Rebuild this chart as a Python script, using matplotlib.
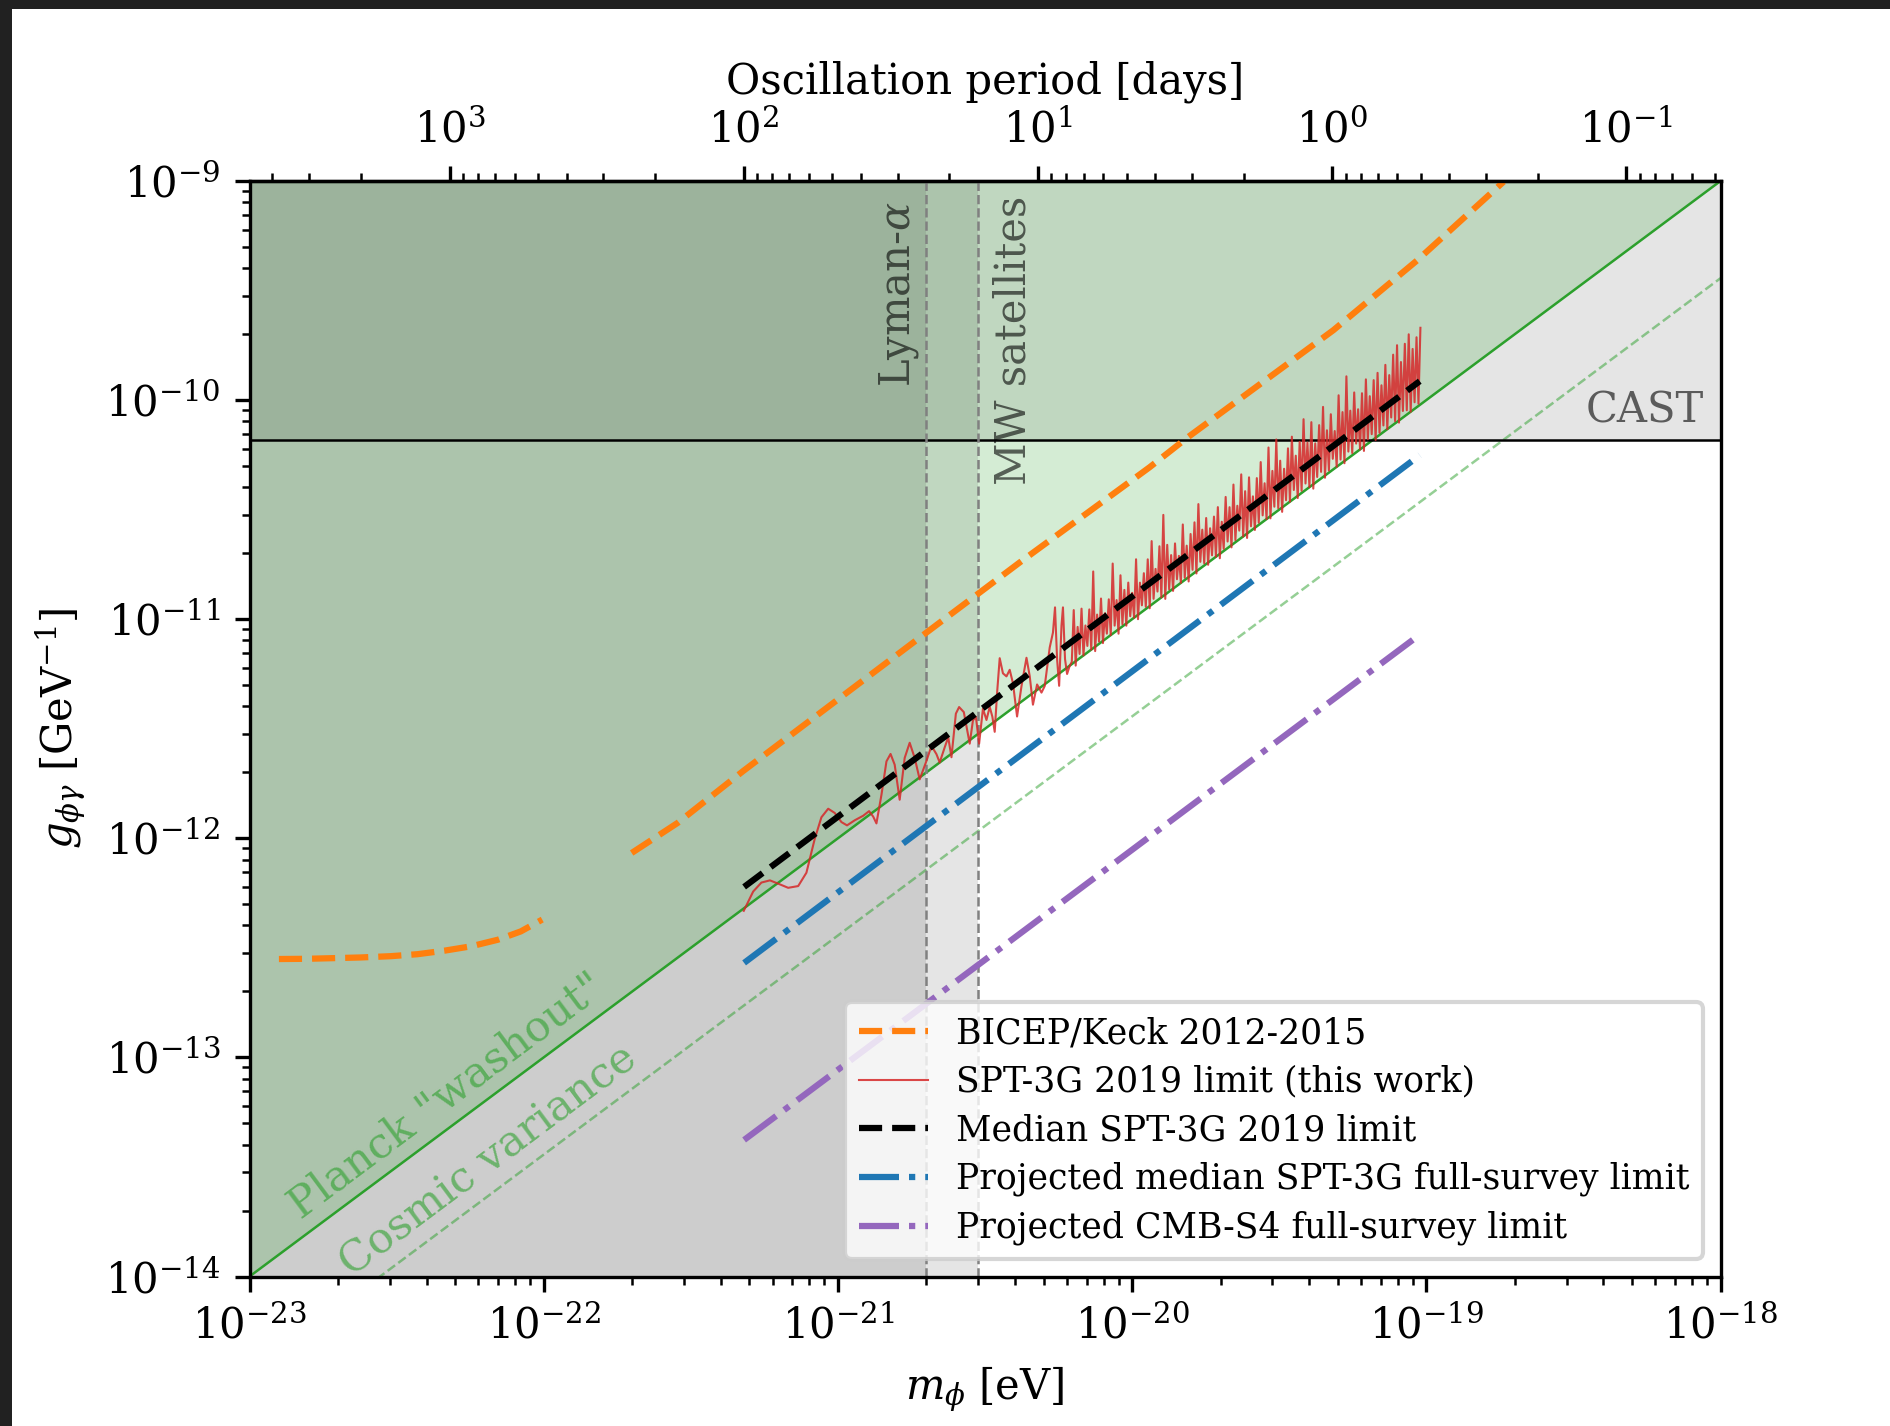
import numpy as np
import matplotlib
matplotlib.use("Agg")
import matplotlib.pyplot as plt
from matplotlib.patches import Rectangle
from matplotlib.ticker import NullFormatter, LogLocator

plt.rcParams['font.family'] = ['DejaVu Serif']
plt.rcParams['mathtext.fontset'] = 'dejavuserif'

# ---------------- data ----------------
m_lim = [1e-23, 1e-18]          # eV
g_lim = [1e-14, 1e-9]           # GeV^-1
m_ticks = [1e-23, 1e-22, 1e-21, 1e-20, 1e-19, 1e-18]
g_ticks = [1e-14, 1e-13, 1e-12, 1e-11, 1e-10, 1e-9]
period_ticks = [1e-1, 1e0, 1e1, 1e2, 1e3]

planck_m = [1e-23, 1e-18]
planck_g = [1e-14, 1e-9]
cv_m = [1e-23, 1e-18]
cv_g = [3.6e-15, 3.6e-10]
cast_g = 6.6e-11
lyman_m = 2e-21
mw_m = 3e-21

# BICEP/Keck 2012-2015 (log10 m, log10 g), two pieces
bicep1_logm = [-22.900, -22.806, -22.715, -22.624, -22.520, -22.429, -22.338,
               -22.247, -22.156, -22.078, -22.005]
bicep1_logg = [-12.551, -12.550, -12.547, -12.544, -12.538, -12.529, -12.513,
               -12.493, -12.463, -12.425, -12.371]
bicep2_logm = [-21.701, -21.545, -21.322, -20.699, -20.382, -19.940, -19.810,
               -19.316, -19.030, -18.737]
bicep2_logg = [-12.067, -11.930, -11.693, -11.061, -10.741, -10.306, -10.169,
               -9.681, -9.361, -9.003]

median_m = [4.8e-22, 9.5e-20]
median_g = [6.0e-13, 1.22e-10]
sptfull_m = [4.8e-22, 9.5e-20]
sptfull_g = [2.7e-13, 5.6e-11]
s4_m = [4.8e-22, 9.5e-20]
s4_g = [4.2e-14, 8.5e-12]

# SPT-3G 2019 limit: log10(g / g_Planck-line) read at given log10 m
spt_smooth_logm = [-21.320, -21.288, -21.260, -21.231, -21.203, -21.169, -21.135,
                   -21.107, -21.079, -21.056, -21.033, -21.011, -20.988, -20.969,
                   -20.943, -20.914, -20.894, -20.880, -20.869, -20.852, -20.835,
                   -20.821, -20.807, -20.790, -20.773, -20.756, -20.739, -20.722,
                   -20.699, -20.682, -20.665, -20.654, -20.637, -20.625, -20.614,
                   -20.599, -20.588, -20.572, -20.552, -20.541, -20.531, -20.520,
                   -20.507, -20.495, -20.484, -20.475, -20.467, -20.459, -20.450,
                   -20.439, -20.427, -20.416, -20.405, -20.391, -20.376, -20.359,
                   -20.348, -20.337, -20.323, -20.308, -20.297, -20.280, -20.269,
                   -20.262, -20.255, -20.248, -20.240, -20.235, -20.228, -20.221,
                   -20.212]
spt_smooth_r = [-0.011, 0.045, 0.058, 0.039, -0.004, -0.057, -0.083,
                -0.050, 0.075, 0.152, 0.168, 0.127, 0.062, 0.028,
                0.025, 0.017, 0.018, -0.021, -0.063, 0.050, 0.186,
                0.206, 0.143, -0.034, 0.140, 0.192, 0.106, -0.009,
                0.052, 0.104, 0.049, 0.000, 0.052, 0.086, -0.016,
                0.168, 0.187, 0.148, -0.016, 0.079, 0.086, -0.048,
                0.099, 0.035, 0.084, 0.030, -0.047, 0.121, 0.272,
                0.192, 0.166, 0.185, 0.113, -0.053, 0.070, 0.183,
                0.088, -0.053, 0.025, -0.027, -0.008, 0.151, 0.208,
                0.316, 0.073, -0.056, 0.211, 0.289, 0.046, -0.029,
                0.000]
# dense part: alternating troughs and spikes, read at evenly spaced masses
spt_dense_range = (-20.205, -19.020)
spt_dense_dips = [0.01, -0.02, 0.02, 0.00, 0.03, 0.00, -0.02, 0.01, -0.01, 0.02,
                  0.00, 0.03, -0.02, 0.01, -0.01, 0.02, 0.00, -0.02, 0.03, 0.01,
                  -0.01, 0.02, 0.04, 0.00, -0.02, 0.01, -0.01, 0.03, 0.00, 0.01,
                  -0.02, 0.02, -0.01, 0.03, 0.01, -0.01, 0.02, 0.00, -0.02, 0.01,
                  0.03, -0.01, 0.01, 0.04, 0.00, -0.02, 0.02, -0.01, 0.01, 0.03,
                  0.00, -0.01, 0.03, 0.01, -0.02, 0.02, 0.00, 0.04, -0.01, 0.01,
                  0.03, 0.00, -0.02, 0.02, 0.03, -0.01, 0.01, 0.05, 0.00, 0.02,
                  -0.01, 0.03, 0.01, 0.04, 0.00, -0.02, 0.02, 0.03, -0.01, 0.01,
                  0.03, 0.00, 0.04, 0.01, -0.01, 0.03, 0.02, 0.00, 0.03, 0.01]
spt_dense_peaks = [0.24, 0.15, 0.22, 0.13, 0.19, 0.35, 0.14, 0.20, 0.12, 0.17,
                   0.32, 0.14, 0.24, 0.16, 0.18, 0.12, 0.26, 0.14, 0.17, 0.22,
                   0.29, 0.15, 0.24, 0.37, 0.22, 0.16, 0.20, 0.13, 0.26, 0.15,
                   0.19, 0.23, 0.30, 0.17, 0.21, 0.15, 0.19, 0.22, 0.14, 0.24,
                   0.18, 0.27, 0.16, 0.29, 0.20, 0.25, 0.15, 0.22, 0.28, 0.17,
                   0.32, 0.20, 0.33, 0.22, 0.17, 0.25, 0.29, 0.19, 0.24, 0.33,
                   0.21, 0.29, 0.18, 0.25, 0.32, 0.20, 0.26, 0.17, 0.32, 0.23,
                   0.38, 0.21, 0.28, 0.19, 0.25, 0.30, 0.21, 0.27, 0.29, 0.22,
                   0.30, 0.24, 0.32, 0.35, 0.26, 0.33, 0.36, 0.28, 0.32, 0.35]

period_const = 4.7866e-20   # h / (1 day) in eV*days

legend_labels = ["BICEP/Keck 2012-2015",
                 "SPT-3G 2019 limit (this work)",
                 "Median SPT-3G 2019 limit",
                 "Projected median SPT-3G full-survey limit",
                 "Projected CMB-S4 full-survey limit"]

# ---------------- figure ----------------
W, H = 1890, 1426
fig = plt.figure(figsize=(W / 300, H / 300), dpi=300)
ax = fig.add_axes([249.5 / W, 1 - 1276.5 / H, (1720.5 - 249.5) / W, (1276.5 - 181) / H])
ax.set_xscale('log')
ax.set_yscale('log')
ax.set_xlim(m_lim)
ax.set_ylim(g_lim)
ax.set_xticks(m_ticks)
ax.set_yticks(g_ticks)
ax.xaxis.set_minor_formatter(NullFormatter())
ax.yaxis.set_minor_formatter(NullFormatter())

# shaded regions
ax.axvspan(m_lim[0], lyman_m, color='k', alpha=0.1, lw=0, zorder=0)
ax.axvspan(m_lim[0], mw_m, color='k', alpha=0.1, lw=0, zorder=0)
ax.axhspan(cast_g, g_lim[1], color='k', alpha=0.1, lw=0, zorder=0)
ax.fill_between(planck_m, planck_g, [g_lim[1], g_lim[1]], color='C2', alpha=0.2,
                lw=0, zorder=0.5)

ax.plot(planck_m, planck_g, color='C2', lw=0.6, zorder=1)
ax.plot(cv_m, cv_g, color='C2', lw=0.6, ls='--', alpha=0.5, zorder=1)
ax.axhline(cast_g, color='k', lw=0.6, zorder=1)
ax.axvline(lyman_m, color='gray', ls='--', lw=0.6, zorder=1)
ax.axvline(mw_m, color='gray', ls='--', lw=0.6, zorder=1)

# BICEP/Keck
ax.plot(10 ** np.array(bicep1_logm), 10 ** np.array(bicep1_logg), color='C1',
        ls='--', lw=1.5, label=legend_labels[0], zorder=2)
ax.plot(10 ** np.array(bicep2_logm), 10 ** np.array(bicep2_logg), color='C1',
        ls='--', lw=1.5, zorder=2)

# SPT-3G limit curve
dense_logm = np.linspace(spt_dense_range[0], spt_dense_range[1], 2 * len(spt_dense_peaks))
dense_r = np.column_stack([spt_dense_dips, spt_dense_peaks]).ravel()
spt_logm = np.concatenate([spt_smooth_logm, dense_logm])
spt_r = np.concatenate([spt_smooth_r, dense_r])
spt_m = 10 ** spt_logm
spt_base = np.interp(spt_logm, np.log10(planck_m), np.log10(planck_g))
spt_g = 10 ** (spt_base + spt_r)
ax.plot(spt_m, spt_g, color='C3', lw=0.5, alpha=0.85, label=legend_labels[1], zorder=3)

ax.plot(median_m, median_g, color='k', ls='--', lw=1.5, label=legend_labels[2], zorder=4)
ax.plot(sptfull_m, sptfull_g, color='C0', ls='-.', lw=1.5, label=legend_labels[3], zorder=4)
ax.plot(s4_m, s4_g, color='C4', ls='-.', lw=1.5, label=legend_labels[4], zorder=4)

# text labels
ax.annotate('Lyman-$\\alpha$', xy=(lyman_m, g_lim[1]), xytext=(-1.2, -5),
            textcoords='offset points', rotation=90, ha='right', va='top',
            fontsize=10, color='k', alpha=0.6)
ax.annotate('MW satellites', xy=(mw_m, g_lim[1]), xytext=(3.5, -3.5),
            textcoords='offset points', rotation=90, ha='left', va='top',
            fontsize=10, color='k', alpha=0.6)
ax.annotate('CAST', xy=(m_lim[1], cast_g), xytext=(-4, 4.2),
            textcoords='offset points', ha='right', va='baseline',
            fontsize=10, color='k', alpha=0.6)

bb = ax.get_position()
ang = np.degrees(np.arctan((bb.height * H) / (bb.width * W)))
px, py = -np.sin(np.radians(ang)), np.cos(np.radians(ang))
ax.annotate('Planck "washout"', xy=(5.3e-23, 5.3e-14), xytext=(3.6 * px, 3.6 * py),
            textcoords='offset points', rotation=ang, rotation_mode='anchor',
            ha='center', va='baseline', fontsize=10.3, color='C2', alpha=0.6)
ax.annotate('Cosmic variance', xy=(7.4e-23, 7.4e-14 / 2.78), xytext=(3.8 * px, 3.8 * py),
            textcoords='offset points', rotation=ang, rotation_mode='anchor',
            ha='center', va='baseline', fontsize=10.3, color='C2', alpha=0.6)

ax.set_xlabel(r'$m_\phi$ [eV]', fontsize=10)
ax.set_ylabel(r'$g_{\phi\gamma}$ [GeV$^{-1}$]', fontsize=10)
ax.tick_params(labelsize=10)


def m2p(x):
    x = np.asarray(x, dtype=float)
    with np.errstate(divide='ignore', invalid='ignore'):
        return period_const / x


secax = ax.secondary_xaxis('top', functions=(m2p, m2p))
secax.set_xticks(period_ticks)
secax.xaxis.set_minor_formatter(NullFormatter())
secax.set_xlabel('Oscillation period [days]', fontsize=10)
secax.tick_params(labelsize=10)

ax.legend(loc='lower right', fontsize=8.3, labelspacing=0.42)

# dark screenshot border (top and left)
fig.add_artist(Rectangle((0, 1 - 9 / H), 1, 9 / H, transform=fig.transFigure,
                         facecolor='#212121', edgecolor='none', zorder=20))
fig.add_artist(Rectangle((0, 0), 12 / W, 1, transform=fig.transFigure,
                         facecolor='#212121', edgecolor='none', zorder=20))

fig.savefig('out.png', dpi=300)
